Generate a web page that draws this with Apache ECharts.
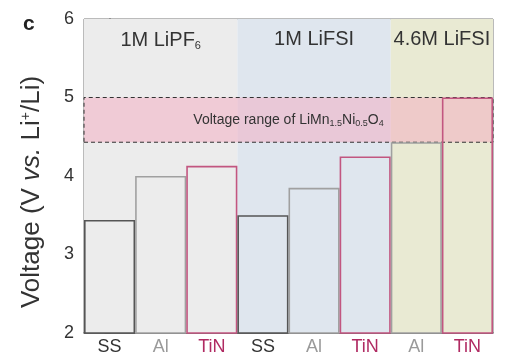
<!DOCTYPE html>
<html>
<head>
<meta charset="utf-8">
<script src="https://cdn.jsdelivr.net/npm/echarts@6/dist/echarts.min.js"></script>
<style>
  html, body { margin: 0; padding: 0; background: #fff; }
  #chart { width: 513px; height: 362px; }
</style>
</head>
<body>
<div id="chart"></div>
<script>
// 数据
const categories = ['SS', 'Al', 'TiN', 'SS', 'Al', 'TiN', 'Al', 'TiN'];
const voltages = [3.44, 4.0, 4.13, 3.5, 3.85, 4.25, 4.43, 5.0];
const groups = [
    { start: 0, end: 2, name: '1M LiPF', sub: '6', color: '#ececec' },
    { start: 3, end: 5, name: '1M LiFSI', sub: '', color: '#dfe6ee' },
    { start: 6, end: 7, name: '4.6M LiFSI', sub: '', color: '#e9ead3' }
];
const bandRange = [4.43, 5.0];
const yTicks = [2, 3, 4, 5, 6];

const metalColors = { SS: '#555555', Al: '#a0a0a0', TiN: '#c25680' };
const labelColors = { SS: '#333333', Al: '#9a9a9a', TiN: '#b02a62' };

const FONT = 'Liberation Sans';

document.addEventListener('DOMContentLoaded', function() {
    const myChart = echarts.init(document.getElementById('chart'));

    const barData = voltages.map(function(v, i) {
        return {
            value: v,
            itemStyle: {
                color: 'rgba(0,0,0,0)',
                borderColor: metalColors[categories[i]],
                borderWidth: 1.6
            }
        };
    });

    // 分组背景（用隐藏的数值轴覆盖完整类目宽度）
    const groupAreas = groups.map(function(g) {
        return [
            {
                xAxis: g.start - 0.5,
                itemStyle: { color: g.color },
                label: {
                    show: true,
                    position: 'insideTop',
                    distance: 10,
                    formatter: g.sub ? '{a|' + g.name + '}{s|' + g.sub + '}' : '{a|' + g.name + '}',
                    rich: {
                        a: { fontSize: 20, color: '#333', fontFamily: FONT },
                        s: { fontSize: 11, color: '#333', verticalAlign: 'bottom', padding: [11, 0, 0, 0], fontFamily: FONT }
                    }
                }
            },
            { xAxis: g.end + 0.5 }
        ];
    });

    const option = {
        animation: false,
        grid: {
            left: 84,
            right: 20,
            top: 19,
            bottom: 29,
            show: true,
            borderColor: '#777',
            borderWidth: 1
        },
        graphic: [
            {
                type: 'text',
                left: 23,
                top: 14,
                style: { text: 'c', fontSize: 21, fontWeight: 'bold', fill: '#222', fontFamily: FONT }
            }
        ],
        xAxis: [
            {
                type: 'category',
                data: categories,
                axisLine: { lineStyle: { color: '#555', width: 1.5 } },
                axisTick: { show: false },
                axisLabel: {
                    interval: 0,
                    margin: 5,
                    fontFamily: FONT,
                    formatter: function(v) { return '{' + v + '|' + v + '}'; },
                    rich: {
                        SS: { color: labelColors.SS, fontSize: 18, fontFamily: FONT },
                        Al: { color: labelColors.Al, fontSize: 18, fontFamily: FONT },
                        TiN: { color: labelColors.TiN, fontSize: 18, fontFamily: FONT }
                    }
                }
            },
            {
                type: 'value',
                min: -0.5,
                max: categories.length - 0.5,
                show: false
            }
        ],
        yAxis: {
            type: 'value',
            min: yTicks[0],
            max: yTicks[yTicks.length - 1],
            interval: 1,
            name: '{n|Voltage (V }{i|vs.}{n| Li}{p|+}{n|/Li)}',
            nameLocation: 'middle',
            nameGap: 39,
            nameTextStyle: {
                padding: [0, 32, 0, 0],
                rich: {
                    n: { fontSize: 26, color: '#333', fontFamily: FONT },
                    i: { fontSize: 26, color: '#333', fontStyle: 'italic', fontFamily: FONT },
                    p: { fontSize: 14, color: '#333', verticalAlign: 'top', padding: [0, 0, 11, 0], fontFamily: FONT }
                }
            },
            axisLine: { show: true, lineStyle: { color: '#555', width: 1.5 } },
            axisTick: { show: true, length: 5, lineStyle: { color: '#555' } },
            minorTick: { show: true, splitNumber: 2, length: 3, lineStyle: { color: '#777' } },
            splitLine: { show: false },
            axisLabel: { fontSize: 18, color: '#333', margin: 10, fontFamily: FONT }
        },
        series: [
            {
                type: 'scatter',
                data: [],
                xAxisIndex: 1,
                markArea: {
                    silent: true,
                    z: 1,
                    data: groupAreas
                }
            },
            {
                type: 'bar',
                data: barData,
                barWidth: '100%',
                barCategoryGap: '0%',
                z: 5
            },
            {
                type: 'scatter',
                data: [],
                markArea: {
                    silent: true,
                    z: 3,
                    itemStyle: {
                        color: 'rgba(244, 170, 192, 0.5)',
                        borderColor: '#333',
                        borderWidth: 1,
                        borderType: [4, 3]
                    },
                    label: {
                        show: true,
                        position: 'inside',
                        formatter: '{a|Voltage range of LiMn}{s|1.5}{a|Ni}{s|0.5}{a|O}{s|4}',
                        rich: {
                            a: { fontSize: 14, color: '#333', fontFamily: FONT },
                            s: { fontSize: 9, color: '#333', verticalAlign: 'bottom', padding: [8, 0, 0, 0], fontFamily: FONT }
                        }
                    },
                    data: [[{ yAxis: bandRange[0] }, { yAxis: bandRange[1] }]]
                }
            }
        ]
    };

    myChart.setOption(option);

    window.addEventListener('resize', function() {
        myChart.resize();
    });
});
</script>
</body>
</html>
